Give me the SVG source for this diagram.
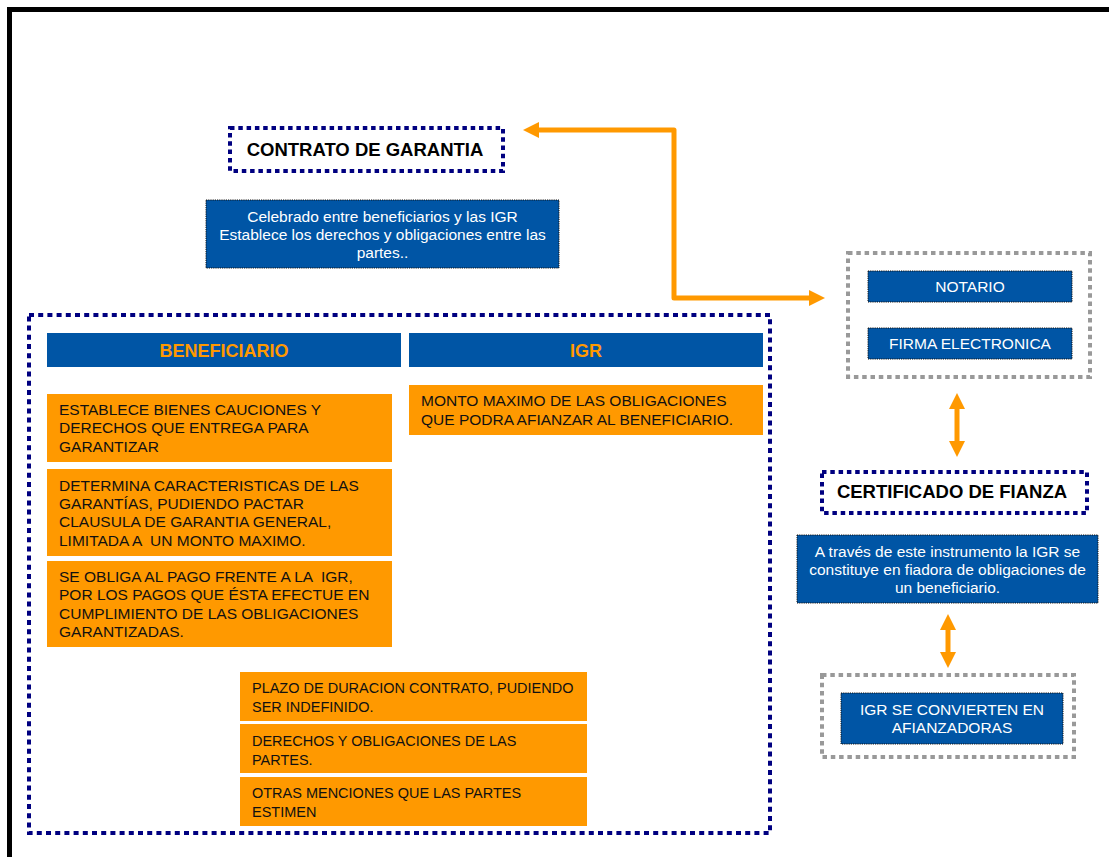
<svg xmlns="http://www.w3.org/2000/svg" width="1109" height="857" viewBox="0 0 1109 857">
  <defs>
    <style>
      text { font-family: "Liberation Sans", Arial, sans-serif; }
      .frame { fill: none; stroke: #000; stroke-width: 5; }
      .navybox { fill: none; stroke: #000080; stroke-width: 4; stroke-dasharray: 4.5 3.8; }
      .bignavy { fill: none; stroke: #000080; stroke-width: 4; stroke-dasharray: 5 4.2; }
      .graybox { fill: none; stroke: #999999; stroke-width: 4; stroke-dasharray: 4.5 3.8; }
      .blue { fill: #0055A5; stroke: #111; stroke-width: 1; stroke-dasharray: 1.2 1; }
      .head { fill: #0055A5; }
      .orange { fill: #FF9900; }
      .title { font-size: 18.5px; font-weight: bold; fill: #000; }
      .htext { font-size: 18px; font-weight: bold; fill: #FF9900; text-anchor: middle; }
      .wtext { font-size: 15.5px; fill: #fff; text-anchor: middle; }
      .btext { font-size: 15.5px; fill: #111; white-space: pre; }
      .conn { fill: none; stroke: #FF9900; stroke-width: 5; stroke-linejoin: round; }
    </style>
    <marker id="arrow" markerUnits="userSpaceOnUse" markerWidth="17" markerHeight="17" refX="0" refY="8" orient="auto-start-reverse" overflow="visible">
      <path d="M0,0 L16,8 L0,16 z" fill="#FF9900"/>
    </marker>
  </defs>

  <rect width="1109" height="857" fill="#fff"/>
  <!-- page frame -->
  <rect class="frame" x="9.5" y="9.5" width="1200" height="900"/>

  <!-- connectors -->
  <g id="connectors">
    <path class="conn" d="M539,130 H674 V298 H809" marker-start="url(#arrow)" marker-end="url(#arrow)"/>
    <path class="conn" d="M957,409 V441" marker-start="url(#arrow)" marker-end="url(#arrow)"/>
    <path class="conn" d="M948,630 V652" marker-start="url(#arrow)" marker-end="url(#arrow)"/>
  </g>

  <g id="contrato">
    <rect class="navybox" x="230" y="128" width="273" height="43"/>
    <text class="title" x="365" y="156" text-anchor="middle">CONTRATO DE GARANTIA</text>
  </g>

  <g id="contrato-desc">
    <rect class="blue" x="206" y="200" width="353" height="68"/>
    <text class="wtext" x="382.5" y="222">Celebrado entre beneficiarios y las IGR</text>
    <text class="wtext" x="382.5" y="240">Establece los derechos y obligaciones entre las</text>
    <text class="wtext" x="382.5" y="258">partes..</text>
  </g>

  <g id="partes">
    <rect class="bignavy" x="29" y="315" width="741" height="518"/>
  </g>

  <g id="beneficiario">
    <rect class="head" x="47" y="333" width="354" height="34"/>
    <text class="htext" x="224" y="357">BENEFICIARIO</text>
  </g>

  <g id="igr">
    <rect class="head" x="409" y="333" width="354" height="34"/>
    <text class="htext" x="586" y="357">IGR</text>
  </g>

  <g id="ben-1">
    <rect class="orange" x="47" y="394" width="345" height="68"/>
    <text class="btext" x="59" y="415">ESTABLECE BIENES CAUCIONES Y</text>
    <text class="btext" x="59" y="433">DERECHOS QUE ENTREGA PARA</text>
    <text class="btext" x="59" y="452">GARANTIZAR</text>
  </g>

  <g id="ben-2">
    <rect class="orange" x="47" y="469" width="345" height="87"/>
    <text class="btext" x="59" y="491">DETERMINA CARACTERISTICAS DE LAS</text>
    <text class="btext" x="59" y="509">GARANTÍAS, PUDIENDO PACTAR</text>
    <text class="btext" x="59" y="527">CLAUSULA DE GARANTIA GENERAL,</text>
    <text class="btext" x="59" y="546">LIMITADA A  UN MONTO MAXIMO.</text>
  </g>

  <g id="ben-3">
    <rect class="orange" x="47" y="561" width="345" height="86"/>
    <text class="btext" x="59" y="582">SE OBLIGA AL PAGO FRENTE A LA  IGR,</text>
    <text class="btext" x="59" y="600">POR LOS PAGOS QUE ÉSTA EFECTUE EN</text>
    <text class="btext" x="59" y="619">CUMPLIMIENTO DE LAS OBLIGACIONES</text>
    <text class="btext" x="59" y="637">GARANTIZADAS.</text>
  </g>

  <g id="igr-1">
    <rect class="orange" x="409" y="385" width="354" height="50"/>
    <text class="btext" x="421" y="406">MONTO MAXIMO DE LAS OBLIGACIONES</text>
    <text class="btext" x="421" y="425">QUE PODRA AFIANZAR AL BENEFICIARIO.</text>
  </g>

  <!-- lower clauses: slightly narrower lettering -->
  <g id="plazo">
    <rect class="orange" x="240" y="672" width="347" height="49"/>
    <g transform="translate(252 0) scale(0.935 1) translate(-252 0)">
      <text class="btext" x="252" y="693">PLAZO DE DURACION CONTRATO, PUDIENDO</text>
      <text class="btext" x="252" y="712">SER INDEFINIDO.</text>
    </g>
  </g>

  <g id="derechos">
    <rect class="orange" x="240" y="724" width="347" height="49"/>
    <g transform="translate(252 0) scale(0.935 1) translate(-252 0)">
      <text class="btext" x="252" y="746">DERECHOS Y OBLIGACIONES DE LAS</text>
      <text class="btext" x="252" y="765">PARTES.</text>
    </g>
  </g>

  <g id="otras">
    <rect class="orange" x="240" y="777" width="347" height="49"/>
    <g transform="translate(252 0) scale(0.935 1) translate(-252 0)">
      <text class="btext" x="252" y="798">OTRAS MENCIONES QUE LAS PARTES</text>
      <text class="btext" x="252" y="817">ESTIMEN</text>
    </g>
  </g>

  <g id="formalizacion">
    <rect class="graybox" x="848" y="253" width="242" height="124"/>
  </g>

  <g id="notario">
    <rect class="blue" x="868" y="271" width="204" height="31"/>
    <text class="wtext" x="970" y="292">NOTARIO</text>
  </g>

  <g id="firma">
    <rect class="blue" x="868" y="328" width="204" height="31"/>
    <text class="wtext" x="970" y="349">FIRMA ELECTRONICA</text>
  </g>

  <g id="certificado">
    <rect class="navybox" x="822" y="472" width="265" height="41"/>
    <text class="title" x="952" y="498" text-anchor="middle">CERTIFICADO DE FIANZA</text>
  </g>

  <g id="certificado-desc">
    <rect class="blue" x="797" y="535" width="301" height="68"/>
    <text class="wtext" x="947.5" y="557">A través de este instrumento la IGR se</text>
    <text class="wtext" x="947.5" y="575">constituye en fiadora de obligaciones de</text>
    <text class="wtext" x="947.5" y="593">un beneficiario.</text>
  </g>

  <g id="afianzadoras-frame">
    <rect class="graybox" x="822" y="675" width="252" height="82"/>
  </g>

  <g id="afianzadoras">
    <rect class="blue" x="841" y="693" width="222" height="51"/>
    <text class="wtext" x="952" y="715">IGR SE CONVIERTEN EN</text>
    <text class="wtext" x="952" y="733">AFIANZADORAS</text>
  </g>
</svg>
